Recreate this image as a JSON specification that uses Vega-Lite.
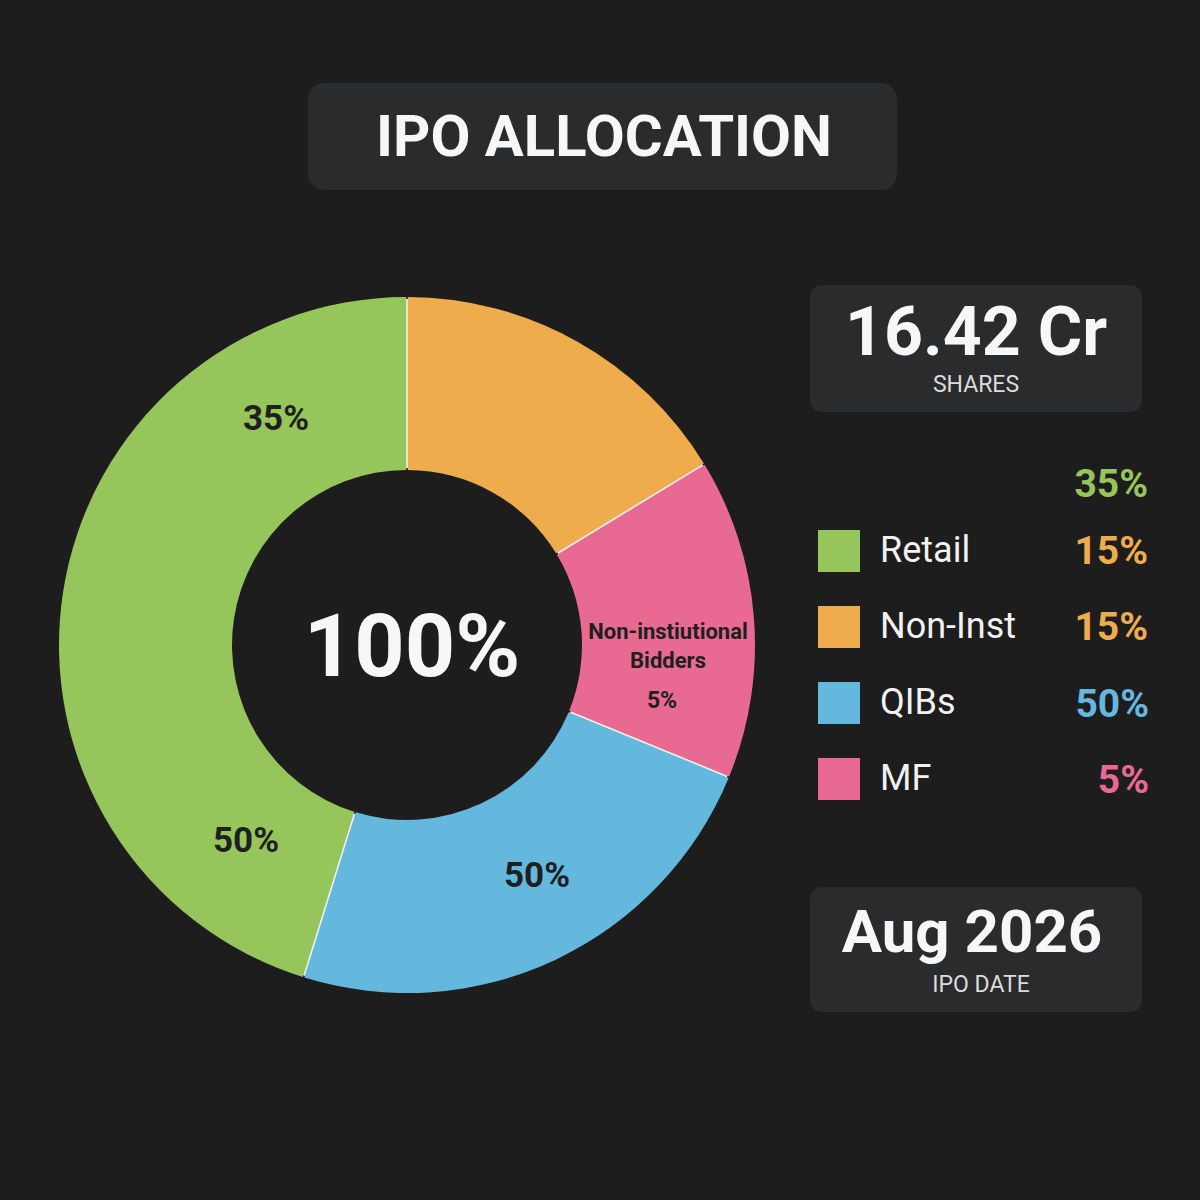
{
  "$schema": "https://vega.github.io/schema/vega-lite/v6.json",
  "width": 1200,
  "height": 1200,
  "autosize": {"type": "fit", "contains": "padding"},
  "padding": 0,
  "background": "#1d1d1d",
  "config": {
    "view": {"stroke": null},
    "axis": {"disable": true},
    "font": "Roboto"
  },
  "layer": [
    {
      "data": {"values": [{"headline": "IPO ALLOCATION"}]},
      "layer": [
        {
          "mark": {"type": "rect", "cornerRadius": 16, "color": "#2a2b2d"},
          "encoding": {
            "x": {"datum": 308, "type": "quantitative", "scale": {"domain": [0, 1200]}},
            "x2": {"datum": 897},
            "y": {"datum": 83, "type": "quantitative", "scale": {"domain": [0, 1200], "reverse": true}},
            "y2": {"datum": 190}
          }
        },
        {
          "mark": {"type": "text", "align": "center", "baseline": "middle", "fontSize": 58, "fontWeight": "bold", "color": "#f7f7f7"},
          "encoding": {
            "x": {"datum": 604, "type": "quantitative", "scale": {"domain": [0, 1200]}},
            "y": {"datum": 139, "type": "quantitative", "scale": {"domain": [0, 1200], "reverse": true}},
            "text": {"field": "headline"}
          }
        }
      ]
    },
    {
      "data": {"values": [{"headline": "16.42 Cr", "caption": "SHARES"}]},
      "layer": [
        {
          "mark": {"type": "rect", "cornerRadius": 12, "color": "#2a2b2d"},
          "encoding": {
            "x": {"datum": 810, "type": "quantitative", "scale": {"domain": [0, 1200]}},
            "x2": {"datum": 1142},
            "y": {"datum": 285, "type": "quantitative", "scale": {"domain": [0, 1200], "reverse": true}},
            "y2": {"datum": 412}
          }
        },
        {
          "mark": {"type": "text", "align": "center", "baseline": "middle", "fontSize": 68, "fontWeight": "bold", "color": "#f7f7f7"},
          "encoding": {
            "x": {"datum": 976, "type": "quantitative", "scale": {"domain": [0, 1200]}},
            "y": {"datum": 335, "type": "quantitative", "scale": {"domain": [0, 1200], "reverse": true}},
            "text": {"field": "headline"}
          }
        },
        {
          "mark": {"type": "text", "align": "center", "baseline": "middle", "fontSize": 23, "color": "#dcdcdc"},
          "encoding": {
            "x": {"datum": 976, "type": "quantitative", "scale": {"domain": [0, 1200]}},
            "y": {"datum": 385, "type": "quantitative", "scale": {"domain": [0, 1200], "reverse": true}},
            "text": {"field": "caption"}
          }
        }
      ]
    },
    {
      "data": {"values": [{"headline": "Aug 2026", "caption": "IPO DATE"}]},
      "layer": [
        {
          "mark": {"type": "rect", "cornerRadius": 12, "color": "#2a2b2d"},
          "encoding": {
            "x": {"datum": 810, "type": "quantitative", "scale": {"domain": [0, 1200]}},
            "x2": {"datum": 1142},
            "y": {"datum": 887, "type": "quantitative", "scale": {"domain": [0, 1200], "reverse": true}},
            "y2": {"datum": 1012}
          }
        },
        {
          "mark": {"type": "text", "align": "center", "baseline": "middle", "fontSize": 60, "fontWeight": "bold", "color": "#f7f7f7"},
          "encoding": {
            "x": {"datum": 972, "type": "quantitative", "scale": {"domain": [0, 1200]}},
            "y": {"datum": 934, "type": "quantitative", "scale": {"domain": [0, 1200], "reverse": true}},
            "text": {"field": "headline"}
          }
        },
        {
          "mark": {"type": "text", "align": "center", "baseline": "middle", "fontSize": 23, "color": "#dcdcdc"},
          "encoding": {
            "x": {"datum": 981, "type": "quantitative", "scale": {"domain": [0, 1200]}},
            "y": {"datum": 985, "type": "quantitative", "scale": {"domain": [0, 1200], "reverse": true}},
            "text": {"field": "caption"}
          }
        }
      ]
    },
    {
      "data": {
        "values": [
          {"segment": "Non-Inst", "share": 16.3},
          {"segment": "MF", "share": 14.9},
          {"segment": "QIBs", "share": 23.6},
          {"segment": "Retail", "share": 45.2}
        ]
      },
      "transform": [{"window": [{"op": "row_number", "as": "slice"}]}],
      "layer": [
        {
          "mark": {"type": "arc", "innerRadius": 177, "outerRadius": 346, "fill": "#f2f2f2"},
          "encoding": {
            "x": {"datum": 407, "type": "quantitative", "scale": {"domain": [0, 1200]}},
            "y": {"datum": 645, "type": "quantitative", "scale": {"domain": [0, 1200], "reverse": true}}
          }
        },
        {
          "mark": {"type": "arc", "innerRadius": 175, "outerRadius": 348, "padAngle": 0.004},
          "encoding": {
            "x": {"datum": 407, "type": "quantitative", "scale": {"domain": [0, 1200]}},
            "y": {"datum": 645, "type": "quantitative", "scale": {"domain": [0, 1200], "reverse": true}},
            "theta": {"field": "share", "type": "quantitative", "stack": true},
            "order": {"field": "slice", "type": "quantitative"},
            "color": {
              "field": "segment",
              "type": "nominal",
              "scale": {
                "domain": ["Retail", "Non-Inst", "QIBs", "MF"],
                "range": ["#96c55b", "#eeac4c", "#64b8dd", "#e86a92"]
              },
              "legend": {
                "title": null,
                "orient": "none",
                "legendX": 818,
                "legendY": 530,
                "direction": "vertical",
                "padding": 0,
                "symbolType": "square",
                "symbolSize": 1764,
                "symbolStrokeWidth": 0,
                "symbolOpacity": 1,
                "labelFont": "Roboto",
                "labelFontSize": 36,
                "labelColor": "#f2f2f2",
                "labelOffset": 20,
                "labelLimit": 300,
                "rowPadding": 34
              }
            }
          }
        }
      ]
    },
    {
      "data": {"values": [{"label": "100%"}]},
      "mark": {"type": "text", "align": "center", "baseline": "middle", "fontSize": 88, "fontWeight": "bold", "color": "#f7f7f7"},
      "encoding": {
        "x": {"datum": 412, "type": "quantitative", "scale": {"domain": [0, 1200]}},
        "y": {"datum": 650, "type": "quantitative", "scale": {"domain": [0, 1200], "reverse": true}},
        "text": {"field": "label"}
      }
    },
    {
      "data": {"values": [{"label": "35%"}]},
      "mark": {"type": "text", "align": "center", "baseline": "middle", "fontSize": 35, "fontWeight": "bold", "color": "#1f1f1f"},
      "encoding": {
        "x": {"datum": 276, "type": "quantitative", "scale": {"domain": [0, 1200]}},
        "y": {"datum": 419, "type": "quantitative", "scale": {"domain": [0, 1200], "reverse": true}},
        "text": {"field": "label"}
      }
    },
    {
      "data": {"values": [{"label": "50%"}]},
      "mark": {"type": "text", "align": "center", "baseline": "middle", "fontSize": 35, "fontWeight": "bold", "color": "#1f1f1f"},
      "encoding": {
        "x": {"datum": 246, "type": "quantitative", "scale": {"domain": [0, 1200]}},
        "y": {"datum": 841, "type": "quantitative", "scale": {"domain": [0, 1200], "reverse": true}},
        "text": {"field": "label"}
      }
    },
    {
      "data": {"values": [{"label": "50%"}]},
      "mark": {"type": "text", "align": "center", "baseline": "middle", "fontSize": 35, "fontWeight": "bold", "color": "#1f1f1f"},
      "encoding": {
        "x": {"datum": 537, "type": "quantitative", "scale": {"domain": [0, 1200]}},
        "y": {"datum": 876, "type": "quantitative", "scale": {"domain": [0, 1200], "reverse": true}},
        "text": {"field": "label"}
      }
    },
    {
      "data": {"values": [{"label": ["Non-instiutional", "Bidders"]}]},
      "mark": {"type": "text", "align": "center", "baseline": "middle", "fontSize": 22, "fontWeight": "bold", "color": "#1f1f1f", "lineHeight": 29},
      "encoding": {
        "x": {"datum": 668, "type": "quantitative", "scale": {"domain": [0, 1200]}},
        "y": {"datum": 632, "type": "quantitative", "scale": {"domain": [0, 1200], "reverse": true}},
        "text": {"field": "label"}
      }
    },
    {
      "data": {"values": [{"label": "5%"}]},
      "mark": {"type": "text", "align": "center", "baseline": "middle", "fontSize": 23, "fontWeight": "bold", "color": "#1f1f1f"},
      "encoding": {
        "x": {"datum": 662, "type": "quantitative", "scale": {"domain": [0, 1200]}},
        "y": {"datum": 701, "type": "quantitative", "scale": {"domain": [0, 1200], "reverse": true}},
        "text": {"field": "label"}
      }
    },
    {
      "data": {"values": [{"pct": "35%"}]},
      "mark": {"type": "text", "align": "right", "baseline": "middle", "fontSize": 39, "fontWeight": "bold", "color": "#96c55b"},
      "encoding": {
        "x": {"datum": 1148, "type": "quantitative", "scale": {"domain": [0, 1200]}},
        "y": {"datum": 485, "type": "quantitative", "scale": {"domain": [0, 1200], "reverse": true}},
        "text": {"field": "pct"}
      }
    },
    {
      "data": {"values": [{"pct": "15%"}]},
      "mark": {"type": "text", "align": "right", "baseline": "middle", "fontSize": 39, "fontWeight": "bold", "color": "#eeac4c"},
      "encoding": {
        "x": {"datum": 1148, "type": "quantitative", "scale": {"domain": [0, 1200]}},
        "y": {"datum": 552, "type": "quantitative", "scale": {"domain": [0, 1200], "reverse": true}},
        "text": {"field": "pct"}
      }
    },
    {
      "data": {"values": [{"pct": "15%"}]},
      "mark": {"type": "text", "align": "right", "baseline": "middle", "fontSize": 39, "fontWeight": "bold", "color": "#eeac4c"},
      "encoding": {
        "x": {"datum": 1148, "type": "quantitative", "scale": {"domain": [0, 1200]}},
        "y": {"datum": 628, "type": "quantitative", "scale": {"domain": [0, 1200], "reverse": true}},
        "text": {"field": "pct"}
      }
    },
    {
      "data": {"values": [{"pct": "50%"}]},
      "mark": {"type": "text", "align": "right", "baseline": "middle", "fontSize": 39, "fontWeight": "bold", "color": "#64b8dd"},
      "encoding": {
        "x": {"datum": 1149, "type": "quantitative", "scale": {"domain": [0, 1200]}},
        "y": {"datum": 705, "type": "quantitative", "scale": {"domain": [0, 1200], "reverse": true}},
        "text": {"field": "pct"}
      }
    },
    {
      "data": {"values": [{"pct": "5%"}]},
      "mark": {"type": "text", "align": "right", "baseline": "middle", "fontSize": 39, "fontWeight": "bold", "color": "#e86a92"},
      "encoding": {
        "x": {"datum": 1149, "type": "quantitative", "scale": {"domain": [0, 1200]}},
        "y": {"datum": 781, "type": "quantitative", "scale": {"domain": [0, 1200], "reverse": true}},
        "text": {"field": "pct"}
      }
    }
  ]
}
